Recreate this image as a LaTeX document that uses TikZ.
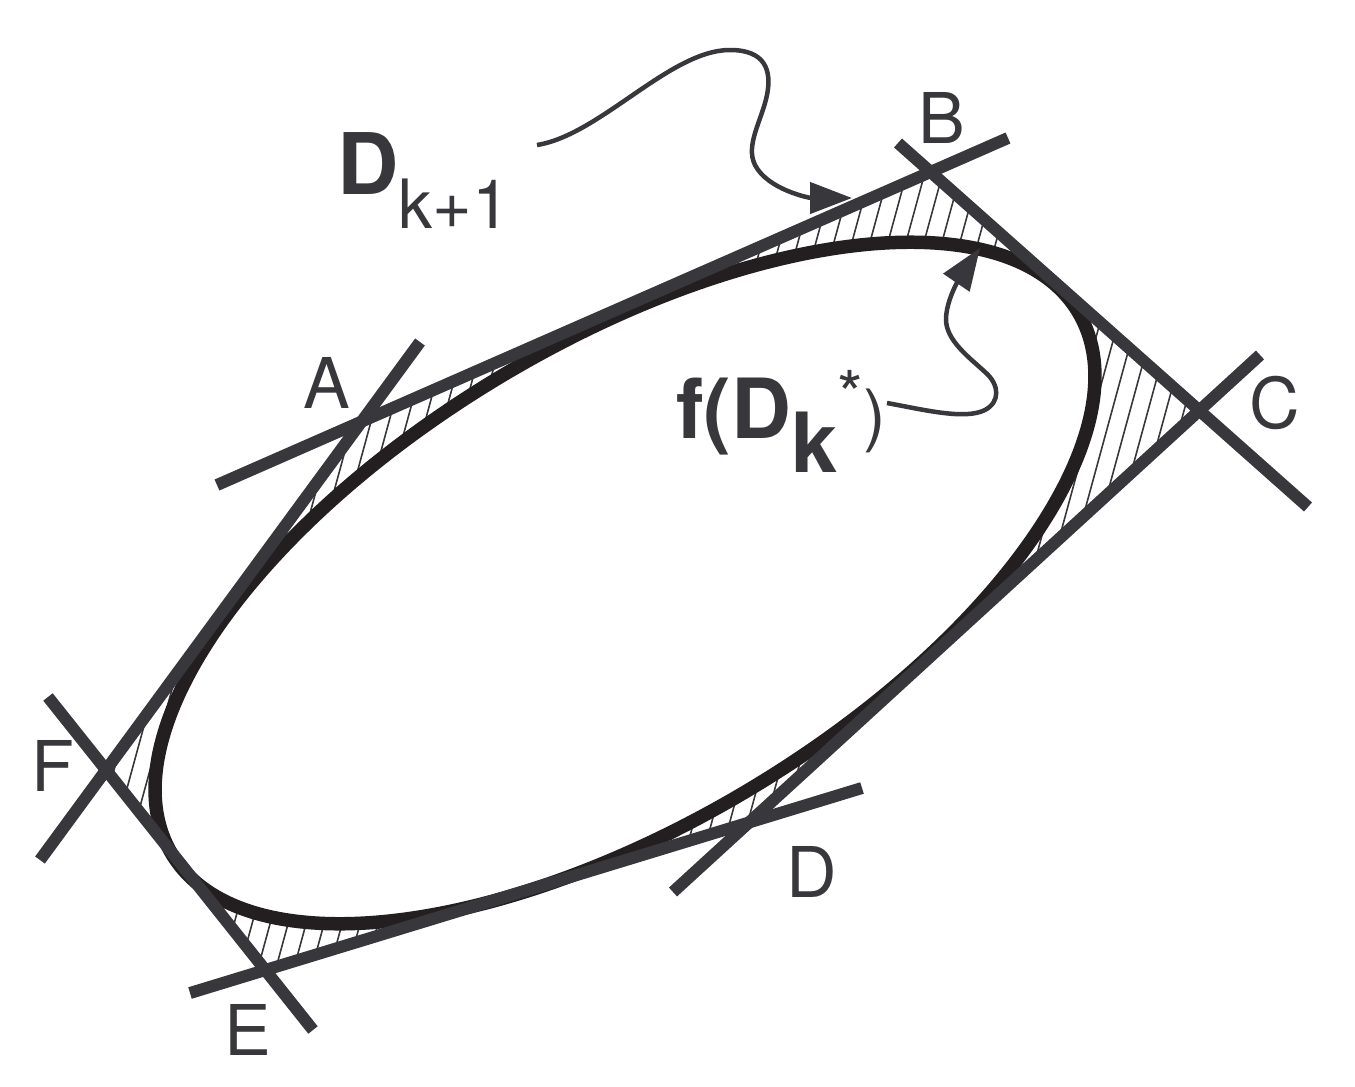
\documentclass[tikz,border=0pt]{standalone}
\usepackage{fontspec}
\setmainfont{TeX Gyre Heros}
\usetikzlibrary{arrows.meta}
\definecolor{linegray}{HTML}{38373C}
\definecolor{ellblack}{HTML}{231F20}
\begin{document}
\begin{tikzpicture}[x=1pt,y=-1pt,
  tangent/.style={line width=12pt, draw=linegray},
  oval/.style={line width=13.5pt, draw=ellblack, fill=white},
  hatchline/.style={line width=1.6pt, draw=linegray},
  arr/.style={line width=4.5pt, draw=linegray, -{Triangle[length=42pt,width=31pt]}},
  ptlabel/.style={inner sep=0pt, text=linegray, font=\fontsize{70}{84}\selectfont},
  biglabel/.style={inner sep=0pt, anchor=base west, text=linegray}
]
\useasboundingbox (0,0) rectangle (1355,1087);

% tangent line end points
\coordinate (ab1) at (217,485);  \coordinate (ab2) at (1008,138);
\coordinate (bc1) at (898,143);  \coordinate (bc2) at (1308,507);
\coordinate (cd1) at (1260,355); \coordinate (cd2) at (673,892);
\coordinate (de1) at (862,788);  \coordinate (de2) at (190,993);
\coordinate (ef1) at (313,1030); \coordinate (ef2) at (48,697);
\coordinate (fa1) at (40,860);   \coordinate (fa2) at (420,342);

% vertices
\coordinate (A) at (intersection of ab1--ab2 and fa1--fa2);
\coordinate (B) at (intersection of ab1--ab2 and bc1--bc2);
\coordinate (C) at (intersection of bc1--bc2 and cd1--cd2);
\coordinate (D) at (intersection of cd1--cd2 and de1--de2);
\coordinate (E) at (intersection of de1--de2 and ef1--ef2);
\coordinate (F) at (intersection of ef1--ef2 and fa1--fa2);

% hatching between polygon and ellipse
\begin{scope}
  \clip (A) -- (B) -- (C) -- (D) -- (E) -- (F) -- cycle;
  \foreach \i in {0,...,80} {
    \draw[hatchline] ({\i*18},0) -- ({\i*18-300},1100);
  }
\end{scope}

% ellipse
\draw[oval, rotate around={30.85:(625,583)}] (625,583) ellipse [x radius=528, y radius=241];

% tangent lines
\draw[tangent] (ab1) -- (ab2);
\draw[tangent] (bc1) -- (bc2);
\draw[tangent] (cd1) -- (cd2);
\draw[tangent] (de1) -- (de2);
\draw[tangent] (ef1) -- (ef2);
\draw[tangent] (fa1) -- (fa2);

% vertex labels
\node[ptlabel] (lA) at (327,383) {A};
\node[ptlabel] (lB) at (942,118) {B};
\node[ptlabel] (lC) at (1275,403) {C};
\node[ptlabel] (lD) at (812,872) {D};
\node[ptlabel] (lE) at (248,1030) {E};
\node[ptlabel] (lF) at (53,766) {F};

% big labels
\node[biglabel] (dk1) at (337,194) {\fontsize{85}{90}\selectfont\bfseries D\raisebox{-34pt}{\mdseries\fontsize{68}{75}\selectfont k+1}};
\node[biglabel] (fdk) at (676,438) {\fontsize{83}{90}\selectfont\bfseries f(D\raisebox{-34pt}{k}\raisebox{20pt}{\mdseries\fontsize{66}{70}\selectfont *}{\mdseries\fontsize{68}{75}\selectfont )}};

% curly arrows
\coordinate (s1) at (537,145); \coordinate (t1) at (852,198);
\coordinate (s2) at (887,403); \coordinate (t2) at (980,248);

\draw[arr] (s1) .. controls (600,135) and (670,50) .. (730,50)
  .. controls (765,50) and (772,70) .. (767,95)
  .. controls (762,120) and (745,145) .. (755,165)
  .. controls (768,190) and (810,198) .. (t1);

\draw[arr] (s2) .. controls (925,410) and (965,420) .. (985,410)
  .. controls (1000,402) and (1000,385) .. (985,372)
  .. controls (970,358) and (945,340) .. (946,318)
  .. controls (947,295) and (965,270) .. (t2);
\end{tikzpicture}
\end{document}
